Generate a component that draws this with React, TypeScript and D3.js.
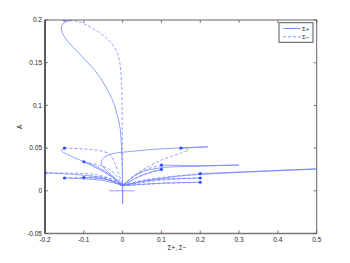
import * as d3 from "d3";
import React from "react";

type Pt = [number, number];

// tick values
const xTicks = [-0.2, -0.1, 0, 0.1, 0.2, 0.3, 0.4, 0.5];
const yTicks = [-0.05, 0, 0.05, 0.1, 0.15, 0.2];

// initial points (markers)
const starts: Pt[] = [
  [-0.15, 0.2], [-0.15, 0.05], [0.15, 0.05], [-0.1, 0.034], [-0.2, 0.021],
  [-0.15, 0.015], [-0.1, 0.0155], [0.1, 0.03], [0.1, 0.025],
  [0.2, 0.02], [0.2, 0.015], [0.2, 0.01],
];

// Σ+ trajectories (solid)
const sigmaPlus: Pt[][] = [
  [[-0.15, 0.2], [-0.13, 0.2], [-0.137, 0.199], [-0.153, 0.196], [-0.158, 0.191], [-0.155, 0.185],
   [-0.145, 0.177], [-0.104, 0.157], [-0.06, 0.134], [-0.027, 0.107], [-0.014, 0.089],
   [-0.006, 0.072], [-0.003, 0.05], [-0.001, 0.025], [0, 0.006], [0, -0.015], [0, 0.004]],
  [[-0.15, 0.05], [-0.145, 0.0505], [-0.152, 0.049], [-0.158, 0.047], [-0.14, 0.042], [-0.1, 0.034],
   [-0.06, 0.025], [-0.03, 0.017], [-0.01, 0.01], [0, 0.006]],
  [[0.15, 0.05], [0.22, 0.0515], [0.15, 0.0502], [0.08, 0.0485], [0.02, 0.046], [-0.02, 0.044],
   [-0.045, 0.04], [-0.055, 0.034], [-0.05, 0.028], [-0.03, 0.019], [-0.01, 0.011], [0, 0.006]],
  [[-0.1, 0.034], [-0.07, 0.029], [-0.04, 0.021], [-0.02, 0.014], [0, 0.006]],
  [[-0.2, 0.021], [-0.12, 0.019], [-0.06, 0.016], [-0.025, 0.011], [0, 0.006]],
  [[-0.15, 0.015], [-0.1, 0.014], [-0.05, 0.012], [-0.02, 0.009], [0, 0.006]],
  [[-0.1, 0.0155], [-0.06, 0.0145], [-0.03, 0.012], [0, 0.006]],
  [[0.1, 0.03], [0.2, 0.0295], [0.3, 0.0302], [0.2, 0.0288], [0.1, 0.027], [0.05, 0.022],
   [0.02, 0.014], [0, 0.006]],
  [[0.1, 0.025], [0.06, 0.02], [0.03, 0.014], [0, 0.006]],
  [[0.2, 0.02], [0.5, 0.0258], [0.56, 0.027], [0.5, 0.0255], [0.2, 0.0192], [0.13, 0.0164],
   [0.06, 0.012], [0.02, 0.008], [0, 0.006]],
  [[0.2, 0.015], [0.1, 0.0135], [0.04, 0.01], [0, 0.006]],
  [[0.2, 0.01], [0.1, 0.009], [0.03, 0.007], [0, 0.006]],
  [[-0.035, 0], [0.03, 0]],
];

// Σ− trajectories (dashed)
const sigmaMinus: Pt[][] = [
  [[-0.15, 0.2], [-0.124, 0.199], [-0.106, 0.197], [-0.081, 0.191], [-0.047, 0.181], [-0.021, 0.168],
   [-0.009, 0.154], [-0.003, 0.127], [-0.001, 0.072], [0, 0.006]],
  [[-0.15, 0.05], [-0.1, 0.049], [-0.06, 0.047], [-0.034, 0.043], [-0.021, 0.033], [-0.01, 0.02], [0, 0.006]],
  [[0.15, 0.05], [0.17, 0.048], [0.15, 0.044], [0.1, 0.036], [0.05, 0.024], [0.02, 0.014], [0, 0.006]],
  [[-0.1, 0.034], [-0.06, 0.03], [-0.03, 0.024], [-0.012, 0.015], [0, 0.006]],
  [[-0.2, 0.021], [-0.12, 0.0205], [-0.07, 0.019], [-0.03, 0.014], [0, 0.006]],
  [[-0.15, 0.015], [-0.1, 0.0155], [-0.05, 0.014], [-0.02, 0.01], [0, 0.006]],
  [[-0.1, 0.0155], [-0.05, 0.016], [-0.02, 0.012], [0, 0.006]],
  [[0.1, 0.03], [0.06, 0.025], [0.03, 0.018], [0.01, 0.01], [0, 0.006]],
  [[0.1, 0.025], [0.05, 0.018], [0.02, 0.011], [0, 0.006]],
  [[0.2, 0.02], [0.13, 0.017], [0.06, 0.013], [0.02, 0.009], [0, 0.006]],
  [[0.2, 0.015], [0.1, 0.0125], [0.04, 0.009], [0, 0.006]],
  [[0.2, 0.01], [0.1, 0.0085], [0.04, 0.007], [0, 0.006]],
];

const W = 350;
const H = 263;
const left = 45, right = 316.7, top = 20, bottom = 233.5;
const lineColor = "#6479ff";
const font = "'Liberation Sans', Arial, sans-serif";

export default function App() {
  const x = d3.scaleLinear().domain([-0.2, 0.5]).range([left, right]);
  const y = d3.scaleLinear().domain([-0.05, 0.2]).range([bottom, top]);
  const line = d3
    .line<Pt>()
    .x((d) => x(d[0]))
    .y((d) => y(d[1]))
    .curve(d3.curveCatmullRom.alpha(0.5));

  return (
    <div style={{ position: "absolute", left: 0, top: 0 }}>
      <svg width={W} height={H} style={{ display: "block", background: "#fff" }}>
        <defs>
          <clipPath id="plot">
            <rect x={left} y={top} width={right - left} height={bottom - top} />
          </clipPath>
        </defs>

        <g clipPath="url(#plot)" fill="none" stroke={lineColor} strokeWidth={0.7}>
          {sigmaMinus.map((d, i) => (
            <path key={"m" + i} d={line(d) ?? ""} strokeDasharray="3,2" />
          ))}
          {sigmaPlus.map((d, i) => (
            <path key={"p" + i} d={line(d) ?? ""} />
          ))}
        </g>
        <g clipPath="url(#plot)" fill="#3050ff">
          {starts.map((d, i) => (
            <circle key={i} cx={x(d[0])} cy={y(d[1])} r={1.6} />
          ))}
        </g>

        {/* axes box */}
        <rect x={left} y={top} width={right - left} height={bottom - top}
          fill="none" stroke="#666" strokeWidth={1} />
        <line x1={left} x2={left} y1={top} y2={bottom} stroke="#222" strokeWidth={1.2} />
        <line x1={left} x2={right} y1={bottom} y2={bottom} stroke="#777" strokeWidth={1.4} />

        <g stroke="#555" strokeWidth={0.8}>
          {xTicks.map((t) => (
            <g key={t}>
              <line x1={x(t)} x2={x(t)} y1={bottom} y2={bottom - 3} />
              <line x1={x(t)} x2={x(t)} y1={top} y2={top + 3} />
            </g>
          ))}
          {yTicks.map((t) => (
            <g key={t}>
              <line x1={left} x2={left + 3} y1={y(t)} y2={y(t)} />
              <line x1={right} x2={right - 3} y1={y(t)} y2={y(t)} />
            </g>
          ))}
        </g>

        <g fontFamily={font} fontSize={6.5} fill="#222">
          {xTicks.map((t) => (
            <text key={t} x={x(t)} y={bottom + 8} textAnchor="middle">
              {t === 0 ? "0" : String(t)}
            </text>
          ))}
          {yTicks.map((t) => (
            <text key={t} x={left - 3} y={y(t) + 2.3} textAnchor="end">
              {t === 0 ? "0" : String(t)}
            </text>
          ))}
          <text x={177} y={250} textAnchor="middle">Σ+, Σ−</text>
          <text transform={`translate(22,${(top + bottom) / 2}) rotate(-90)`} textAnchor="middle">A</text>
        </g>

        {/* legend */}
        <g fontFamily={font} fontSize={6}>
          <rect x={279} y={22.7} width={34} height={19.6} fill="#fff" stroke="#555" strokeWidth={1} />
          <line x1={283} x2={301} y1={28.5} y2={28.5} stroke={lineColor} strokeWidth={0.8} />
          <line x1={283} x2={301} y1={36.8} y2={36.8} stroke={lineColor} strokeWidth={0.8} strokeDasharray="3,2" />
          <text x={302} y={30.6} fill="#222">Σ+</text>
          <text x={302} y={38.9} fill="#222">Σ−</text>
        </g>
      </svg>
    </div>
  );
}
